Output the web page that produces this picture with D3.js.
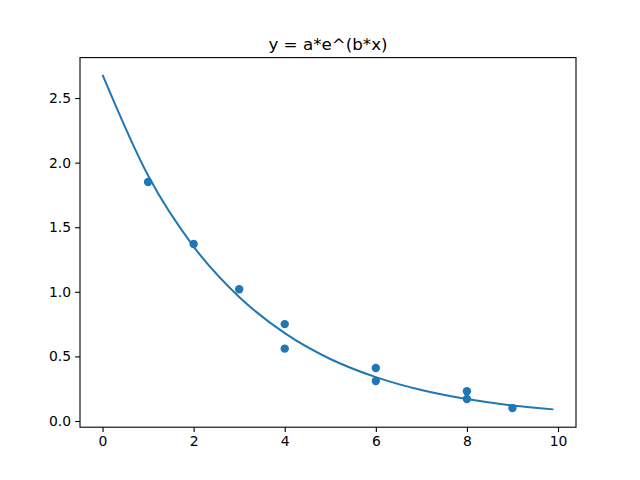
<!DOCTYPE html>
<html>
<head>
<meta charset="utf-8">
<script src="https://cdn.jsdelivr.net/npm/d3@7"></script>
<style>
  body { margin: 0; background: #fff; }
  text { font-family: "DejaVu Sans", sans-serif; }
</style>
</head>
<body>
<div id="chart"></div>
<script>
// scatter data
var pointX = [1, 2, 3, 4, 4, 6, 6, 8, 8, 9];
var pointY = [1.85, 1.37, 1.02, 0.75, 0.56, 0.41, 0.31, 0.23, 0.17, 0.10];

// fitted curve, values
var curveX = [0, 1, 2, 3, 4, 5, 6, 7, 8, 9, 9.9];
var curveY = [2.68, 1.90, 1.35, 0.96, 0.68, 0.48, 0.34, 0.24, 0.17, 0.12, 0.09];

var xTicks = [0, 2, 4, 6, 8, 10];
var yTicks = [0, 0.5, 1.0, 1.5, 2.0, 2.5];

var margin = {top: 57.6, right: 64, bottom: 52.8, left: 80},
    width = 640 - margin.left - margin.right,
    height = 480 - margin.top - margin.bottom;

var svg = d3.select("#chart")
  .append("svg")
    .attr("width", 640)
    .attr("height", 480)
  .append("g")
    .attr("transform", "translate(" + margin.left + "," + margin.top + ")");

var x = d3.scaleLinear().domain([-0.495, 10.395]).range([0, width]);
var y = d3.scaleLinear().domain([-0.048, 2.813]).range([height, 0]);

var xAxis = svg.append("g")
  .attr("transform", "translate(0," + height + ")")
  .call(d3.axisBottom(x).tickValues(xTicks).tickFormat(d3.format("d")).tickSize(4.9).tickPadding(4));
var yAxis = svg.append("g")
  .call(d3.axisLeft(y).tickValues(yTicks).tickFormat(d3.format(".1f")).tickSize(4.9).tickPadding(4));
[xAxis, yAxis].forEach(function(a) {
  a.select(".domain").remove();
  a.selectAll("text").style("font-size", "13.9px").attr("fill", "#000");
  a.selectAll("line").attr("stroke", "#000").attr("stroke-width", 1.1);
});

// the line
var curve = curveX.map(function(d, i) { return [d, curveY[i]]; });
svg.append("path")
  .datum(curve)
  .attr("fill", "none")
  .attr("stroke", "#1f77b4")
  .attr("stroke-width", 2)
  .attr("d", d3.line()
    .x(function(d) { return x(d[0]); })
    .y(function(d) { return y(d[1]); })
    .curve(d3.curveMonotoneX));

// the points
svg.selectAll("circle")
  .data(pointX)
  .enter().append("circle")
    .attr("cx", function(d) { return x(d); })
    .attr("cy", function(d, i) { return y(pointY[i]); })
    .attr("r", 4.2)
    .attr("fill", "#1f77b4");

// frame
svg.append("rect")
  .attr("width", width).attr("height", height)
  .attr("fill", "none").attr("stroke", "#000").attr("stroke-width", 1.1);

// title
svg.append("text")
  .attr("x", width / 2).attr("y", -8)
  .attr("text-anchor", "middle")
  .style("font-size", "16.7px")
  .text("y = a*e^(b*x)");
</script>
</body>
</html>
